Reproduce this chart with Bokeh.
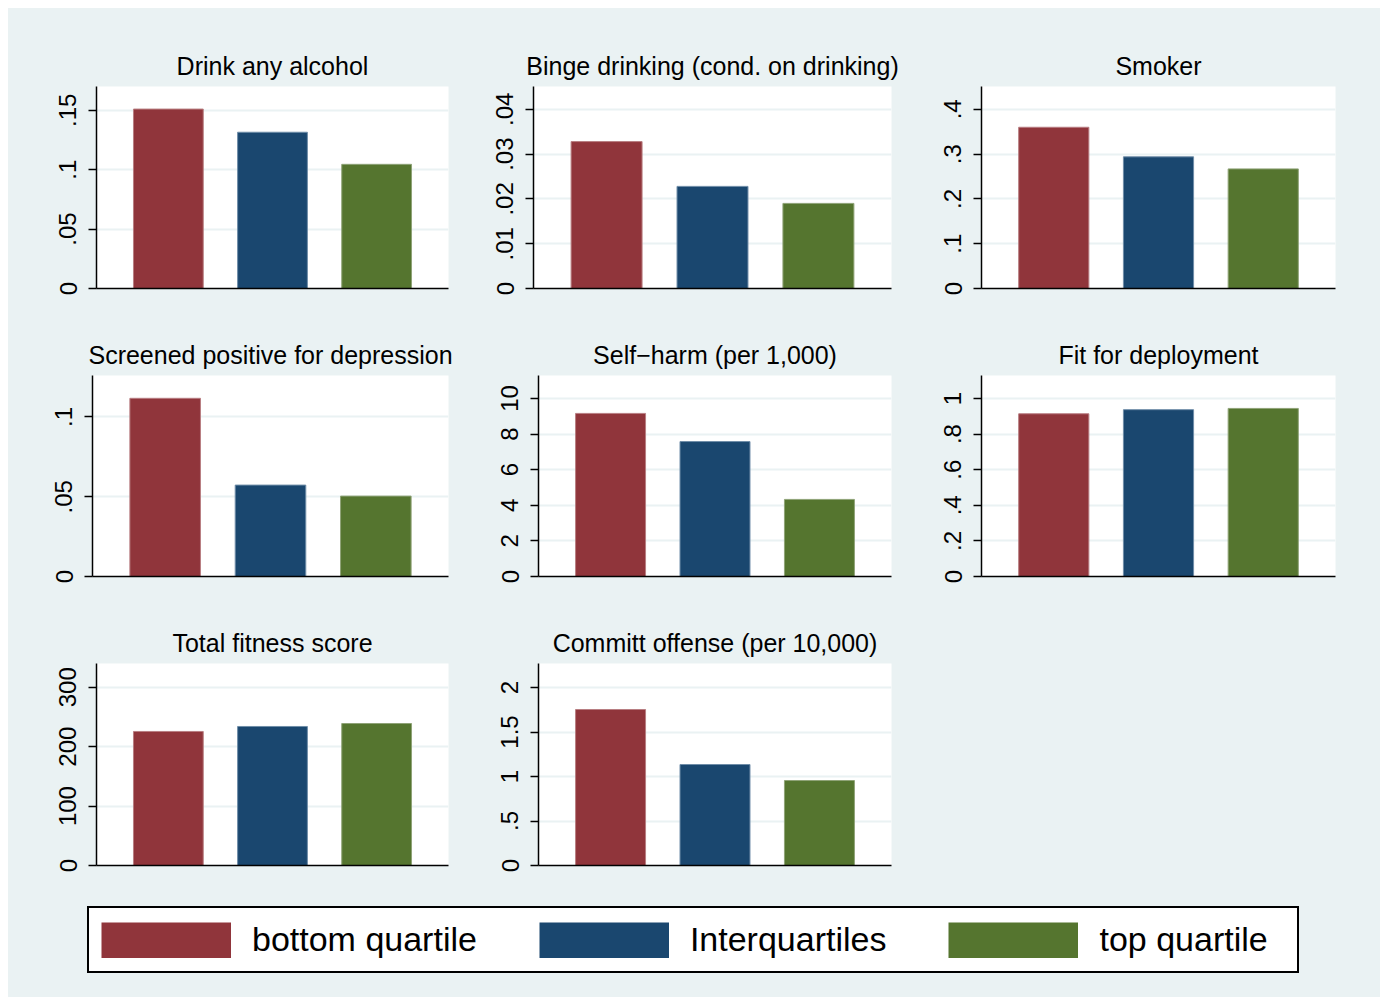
from bokeh.plotting import figure
from bokeh.models import Range1d, FixedTicker, Legend, LegendItem, ColumnDataSource
from bokeh.layouts import column, row
from bokeh.embed import file_html
from bokeh.resources import INLINE

# ---------------- data ----------------
groups = ["bottom quartile", "Interquartiles", "top quartile"]
positions = [1, 2, 3]

titles = ["Drink any alcohol", "Binge drinking (cond. on drinking)", "Smoker",
          "Screened positive for depression", "Self\u2212harm (per 1,000)", "Fit for deployment",
          "Total fitness score", "Committ offense (per 10,000)"]

alcohol = [0.151, 0.1315, 0.1045]
binge = [0.0328, 0.0228, 0.0190]
smoker = [0.360, 0.294, 0.267]
depression = [0.1117, 0.0573, 0.0504]
selfharm = [9.16, 7.58, 4.33]
fit_deploy = [0.914, 0.937, 0.944]
fitness = [225.6, 234.0, 239.0]
offense = [1.753, 1.135, 0.955]

ticks_alcohol = [0, 0.05, 0.1, 0.15]
labels_alcohol = ["0", ".05", ".1", ".15"]
ticks_binge = [0, 0.01, 0.02, 0.03, 0.04]
labels_binge = ["0", ".01", ".02", ".03", ".04"]
ticks_smoker = [0, 0.1, 0.2, 0.3, 0.4]
labels_smoker = ["0", ".1", ".2", ".3", ".4"]
ticks_depression = [0, 0.05, 0.1]
labels_depression = ["0", ".05", ".1"]
ticks_selfharm = [0, 2, 4, 6, 8, 10]
labels_selfharm = ["0", "2", "4", "6", "8", "10"]
ticks_fit = [0, 0.2, 0.4, 0.6, 0.8, 1]
labels_fit = ["0", ".2", ".4", ".6", ".8", "1"]
ticks_fitness = [0, 100, 200, 300]
labels_fitness = ["0", "100", "200", "300"]
ticks_offense = [0, 0.5, 1, 1.5, 2]
labels_offense = ["0", ".5", "1", "1.5", "2"]

# ---------------- style ----------------
BG = "#EAF2F3"
colors = ["#90353B", "#1A476F", "#55752F"]
edges = ["#B87E82", "#6F8DA8", "#8FA377"]
FONT = "Liberation Sans"

def panel(title, vals, ticks, labels, ymax, w, h, left, right, top, bottom):
    p = figure(width=w, height=h, output_backend="svg", toolbar_location=None,
               x_range=Range1d(0.31, 3.69), y_range=Range1d(0, ymax),
               min_border_left=left, min_border_right=right,
               min_border_top=top, min_border_bottom=bottom)
    p.background_fill_color = "white"
    p.border_fill_color = BG
    p.outline_line_color = None
    src = ColumnDataSource(dict(x=positions, top=vals, color=colors, edge=edges))
    p.vbar(x="x", top="top", width=0.67, bottom=0, source=src,
           fill_color="color", line_color="edge", line_width=1)
    # title
    p.title.text = title
    p.title.align = "center"
    p.title.text_font = FONT
    p.title.text_font_size = "25px"
    p.title.text_font_style = "normal"
    p.title.text_color = "black"
    p.title.standoff = 14
    # y axis
    ya = p.yaxis[0]
    ya.ticker = FixedTicker(ticks=ticks)
    ya.major_label_overrides = {t: l for t, l in zip(ticks, labels)}
    ya.major_label_orientation = "vertical"
    ya.major_label_text_font = FONT
    ya.major_label_text_font_size = "24px"
    ya.major_label_text_color = "black"
    ya.major_label_standoff = 12
    ya.major_tick_out = 8
    ya.major_tick_in = 0
    ya.minor_tick_out = 0
    ya.minor_tick_in = 0
    ya.axis_line_width = 1.5
    ya.axis_line_color = "black"
    ya.major_tick_line_width = 1.5
    ya.major_tick_line_color = "black"
    # x axis: only the baseline
    xa = p.xaxis[0]
    xa.ticker = FixedTicker(ticks=[])
    xa.major_tick_out = 0
    xa.major_tick_in = 0
    xa.minor_tick_out = 0
    xa.minor_tick_in = 0
    xa.major_label_standoff = 0
    xa.major_label_text_font_size = "0px"
    xa.axis_line_width = 1.5
    xa.axis_line_color = "black"
    # grids
    p.xgrid.visible = False
    p.ygrid.ticker = FixedTicker(ticks=ticks[1:])
    p.ygrid.grid_line_color = BG
    p.ygrid.grid_line_width = 2
    return p

p1 = panel(titles[0], alcohol, ticks_alcohol, labels_alcohol, 0.170, 457, 288, 88, 17, 78, 8)
p2 = panel(titles[1], binge, ticks_binge, labels_binge, 0.0451, 457, 288, 68, 31, 78, 8)
p3 = panel(titles[2], smoker, ticks_smoker, labels_smoker, 0.451, 458, 288, 59, 45, 78, 8)
p4 = panel(titles[3], depression, ticks_depression, labels_depression, 0.126, 457, 288, 84, 17, 79, 8)
p5 = panel(titles[4], selfharm, ticks_selfharm, labels_selfharm, 11.29, 457, 288, 73, 31, 79, 8)
p6 = panel(titles[5], fit_deploy, ticks_fit, labels_fit, 1.129, 458, 288, 59, 45, 79, 8)
p7 = panel(titles[6], fitness, ticks_fitness, labels_fitness, 340, 457, 288, 88, 17, 79, 7)
p8 = panel(titles[7], offense, ticks_offense, labels_offense, 2.27, 457, 288, 73, 31, 79, 7)

blank = figure(width=458, height=288, output_backend="svg", toolbar_location=None,
               x_axis_type=None, y_axis_type=None, min_border=0,
               x_range=Range1d(0, 1), y_range=Range1d(0, 1))
blank.background_fill_color = BG
blank.border_fill_color = BG
blank.outline_line_color = None

# legend figure
lf = figure(width=1372, height=125, output_backend="svg", toolbar_location=None,
            x_axis_type=None, y_axis_type=None, min_border=0,
            x_range=Range1d(0, 1), y_range=Range1d(0, 1))
lf.background_fill_color = BG
lf.border_fill_color = BG
lf.outline_line_color = None
items = []
for g, c in zip(groups, colors):
    # zero-length thick line hidden under the legend box: only its swatch is seen
    r = lf.line(x=[0.5, 0.5], y=[0.5, 0.5], line_width=36, line_color=c, line_cap="butt")
    items.append(LegendItem(label=g, renderers=[r]))
legend = Legend(items=items, orientation="horizontal", location=(79, 24),
                glyph_width=130, glyph_height=36, label_standoff=21, spacing=62,
                padding=12, margin=0, label_width=186, label_height=30,
                border_line_color="black", border_line_width=2, border_line_alpha=1,
                label_text_font=FONT, label_text_font_size="34px", label_text_color="black",
                background_fill_color="white", background_fill_alpha=1)
lf.add_layout(legend, "center")

layout = column(row(p1, p2, p3), row(p4, p5, p6), row(p7, p8, blank), lf,
                styles={"background-color": BG}, margin=(8, 0, 0, 8))

open("out.html", "w").write(file_html(layout, INLINE))
